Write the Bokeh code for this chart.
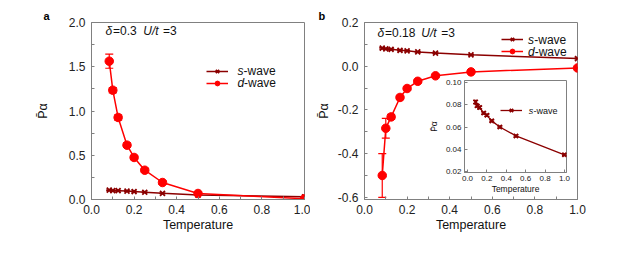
from bokeh.plotting import figure
from bokeh.layouts import row
from bokeh.models import (ColumnDataSource, Whisker, TeeHead, Label, Legend, LegendItem,
                          Range1d, FixedTicker, PrintfTickFormatter, Title)
from bokeh.embed import file_html
from bokeh.resources import INLINE

# ---------------- data ----------------
temps = [1/12, 1/10, 1/8, 1/6, 1/5, 1/4, 1/3, 1/2, 1.0]

a_swave = [0.105, 0.100, 0.100, 0.095, 0.090, 0.082, 0.070, 0.050, 0.030]
a_swave_err = [0.004, 0.004, 0.004, 0.003, 0.003, 0.003, 0.003, 0.003, 0.003]
a_dwave = [1.563, 1.235, 0.927, 0.614, 0.475, 0.331, 0.192, 0.068, 0.008]
a_dwave_err = [0.080, 0.030, 0.030, 0.025, 0.025, 0.020, 0.020, 0.015, 0.015]

b_swave = [0.0825, 0.0790, 0.0775, 0.0725, 0.0705, 0.0655, 0.0600, 0.0520, 0.0350]
b_swave_err = [0.0015, 0.0012, 0.0012, 0.0010, 0.0010, 0.0008, 0.0008, 0.0008, 0.0008]
b_dwave = [-0.500, -0.284, -0.232, -0.143, -0.102, -0.069, -0.044, -0.026, -0.008]
b_dwave_err = [0.100, 0.045, 0.012, 0.010, 0.008, 0.006, 0.005, 0.004, 0.004]

x_ticks = [0.0, 0.2, 0.4, 0.6, 0.8, 1.0]
a_y_ticks = [0.0, 0.5, 1.0, 1.5, 2.0]
b_y_ticks = [-0.6, -0.4, -0.2, 0.0, 0.2]
inset_y_ticks = [0.02, 0.04, 0.06, 0.08, 0.10]

S_COLOR = "#8b0000"
D_COLOR = "#ff0000"
FRAME = "#808080"
FONT = "Liberation Sans"
YLABEL = "P\u0304\u03b1"


def style(p, xticks, yticks, yfmt, tick_fs, label_fs, minor=2):
    p.outline_line_color = FRAME
    p.outline_line_width = 1
    p.grid.visible = False
    p.background_fill_color = "white"
    for ax in (p.xaxis[0], p.yaxis[0]):
        ax.axis_line_color = FRAME
        ax.major_tick_line_color = FRAME
        ax.minor_tick_line_color = FRAME
        ax.major_tick_in = 3
        ax.major_tick_out = 0
        ax.minor_tick_in = 3
        ax.minor_tick_out = 0
        ax.major_label_text_font = FONT
        ax.major_label_text_font_size = tick_fs
        ax.major_label_text_color = "#222222"
        ax.axis_label_text_font = FONT
        ax.axis_label_text_font_style = "normal"
        ax.axis_label_text_font_size = label_fs
        ax.axis_label_text_color = "#111111"
    p.xaxis[0].ticker = FixedTicker(ticks=xticks,
                                    minor_ticks=[x + 0.1 for x in xticks[:-1]] if minor else [])
    ystep = yticks[1] - yticks[0]
    p.yaxis[0].ticker = FixedTicker(ticks=yticks,
                                    minor_ticks=[y + ystep / 2 for y in yticks[:-1]] if minor else [])
    p.xaxis[0].formatter = PrintfTickFormatter(format="%.1f")
    p.yaxis[0].formatter = PrintfTickFormatter(format=yfmt)


def add_series(p, xs, ys, errs, color, marker, size, lw, cap):
    src = ColumnDataSource(dict(x=xs, y=ys,
                                lo=[v - e for v, e in zip(ys, errs)],
                                hi=[v + e for v, e in zip(ys, errs)]))
    ln = p.line("x", "y", source=src, line_color=color, line_width=lw)
    w = Whisker(base="x", lower="lo", upper="hi", source=src, line_color=color, line_width=1.2,
                upper_head=TeeHead(size=cap, line_color=color, line_width=1.2),
                lower_head=TeeHead(size=cap, line_color=color, line_width=1.2))
    p.add_layout(w)
    if marker == "circle":
        sc = p.scatter("x", "y", source=src, marker="circle", size=size,
                       fill_color=color, line_color=color)
    else:
        sc = p.scatter("x", "y", source=src, marker="x", size=size,
                       line_color=color, line_width=1.8)
    return ln, sc


def add_legend(p, renderers, loc, glyph_w=22):
    # glyph-only legend; the labels (with italic s / d) are drawn as Labels
    items = [LegendItem(label=" ", renderers=r) for r in renderers]
    leg = Legend(items=items, location=loc, padding=0, margin=0, spacing=0,
                 glyph_width=glyph_w, glyph_height=12, label_height=12, label_standoff=4,
                 label_text_font=FONT, label_text_font_size="10px",
                 background_fill_alpha=0, border_line_alpha=0)
    p.add_layout(leg)


def text(p, x, y, s, fs="12px", style_="normal", color="#111111"):
    p.add_layout(Label(x=x, y=y, text=s, text_font=FONT, text_font_size=fs,
                       text_font_style=style_, text_align="left", text_baseline="middle",
                       text_color=color))


def wave_label(p, x, y, letter, dx, fs="12px"):
    text(p, x, y, letter, fs=fs, style_="italic")
    text(p, x + dx, y, "-wave", fs=fs)


def panel_title(p, s, offset):
    p.add_layout(Title(text=s, align="left", offset=offset, standoff=2,
                       text_font=FONT, text_font_size="11px", text_font_style="bold",
                       text_color="black"), "above")


# ---------------- panel a ----------------
pa = figure(frame_width=213, frame_height=177, output_backend="svg", toolbar_location=None,
            x_range=Range1d(0, 1.0), y_range=Range1d(0, 2.0),
            min_border_left=91, min_border_right=6, min_border_top=22, min_border_bottom=46)
style(pa, x_ticks, a_y_ticks, "%.1f", "12px", "12.5px")
pa.xaxis.axis_label = "Temperature"
pa.yaxis.axis_label = YLABEL
pa.xaxis.major_label_standoff = 5
pa.xaxis.axis_label_standoff = 1
pa.yaxis.major_label_standoff = 6
pa.yaxis.axis_label_standoff = 16
panel_title(pa, "a", -48)

sl, ss = add_series(pa, temps, a_swave, a_swave_err, S_COLOR, "x", 7, 1.5, 6)
dl, ds = add_series(pa, temps, a_dwave, a_dwave_err, D_COLOR, "circle", 8.5, 1.5, 8)
add_legend(pa, [[sl, ss], [dl, ds]], (115, 110))
wave_label(pa, 0.685, 1.455, "s", 0.029)
wave_label(pa, 0.685, 1.320, "d", 0.031)

text(pa, 0.066, 1.90, "\u03b4", style_="italic")
text(pa, 0.101, 1.90, "=0.3")
text(pa, 0.243, 1.90, "U/t", style_="italic")
text(pa, 0.336, 1.90, "=3")

# ---------------- panel b ----------------
pb = figure(frame_width=213, frame_height=177, output_backend="svg", toolbar_location=None,
            x_range=Range1d(0, 1.0), y_range=Range1d(-0.61, 0.2),
            min_border_left=54, min_border_right=35, min_border_top=22, min_border_bottom=46)
style(pb, x_ticks, b_y_ticks, "%.1f", "12px", "12.5px")
pb.xaxis.axis_label = "Temperature"
pb.yaxis.axis_label = YLABEL
pb.xaxis.major_label_standoff = 5
pb.xaxis.axis_label_standoff = 1
pb.yaxis.major_label_standoff = 6
pb.yaxis.axis_label_standoff = 4
panel_title(pb, "b", -46)

sl2, ss2 = add_series(pb, temps, b_swave, [e * 2 for e in b_swave_err], S_COLOR, "x", 7, 1.5, 6)
dl2, ds2 = add_series(pb, temps, b_dwave, b_dwave_err, D_COLOR, "circle", 8.5, 1.5, 8)
add_legend(pb, [[sl2, ss2], [dl2, ds2]], (137, 142))
wave_label(pb, 0.768, 0.122, "s", 0.029)
wave_label(pb, 0.768, 0.067, "d", 0.031)

text(pb, 0.061, 0.152, "\u03b4", style_="italic")
text(pb, 0.096, 0.152, "=0.18")
text(pb, 0.267, 0.152, "U/t", style_="italic")
text(pb, 0.360, 0.152, "=3")

# ---------------- inset ----------------
pi = figure(frame_width=102, frame_height=92, output_backend="svg", toolbar_location=None,
            x_range=Range1d(-0.031, 1.021), y_range=Range1d(0.0191, 0.1018),
            min_border_left=38, min_border_right=5, min_border_top=4, min_border_bottom=23,
            styles={"position": "absolute", "left": "425px", "top": "76px"})
pi.border_fill_alpha = 0
style(pi, x_ticks, inset_y_ticks, "%.2f", "8px", "8.5px", minor=0)
pi.xaxis.axis_label = "Temperature"
pi.yaxis.axis_label = YLABEL
pi.xaxis.major_label_standoff = 3
pi.xaxis.axis_label_standoff = 0
pi.yaxis.major_label_standoff = 3
pi.yaxis.axis_label_standoff = 4
sl3, ss3 = add_series(pi, temps, b_swave, b_swave_err, S_COLOR, "x", 6, 1.3, 5)
add_legend(pi, [[sl3, ss3]], (36, 56))
wave_label(pi, 0.632, 0.0748, "s", 0.048, fs="9px")

layout = row(pa, pb)
open("out.html", "w").write(file_html([layout, pi], INLINE))
